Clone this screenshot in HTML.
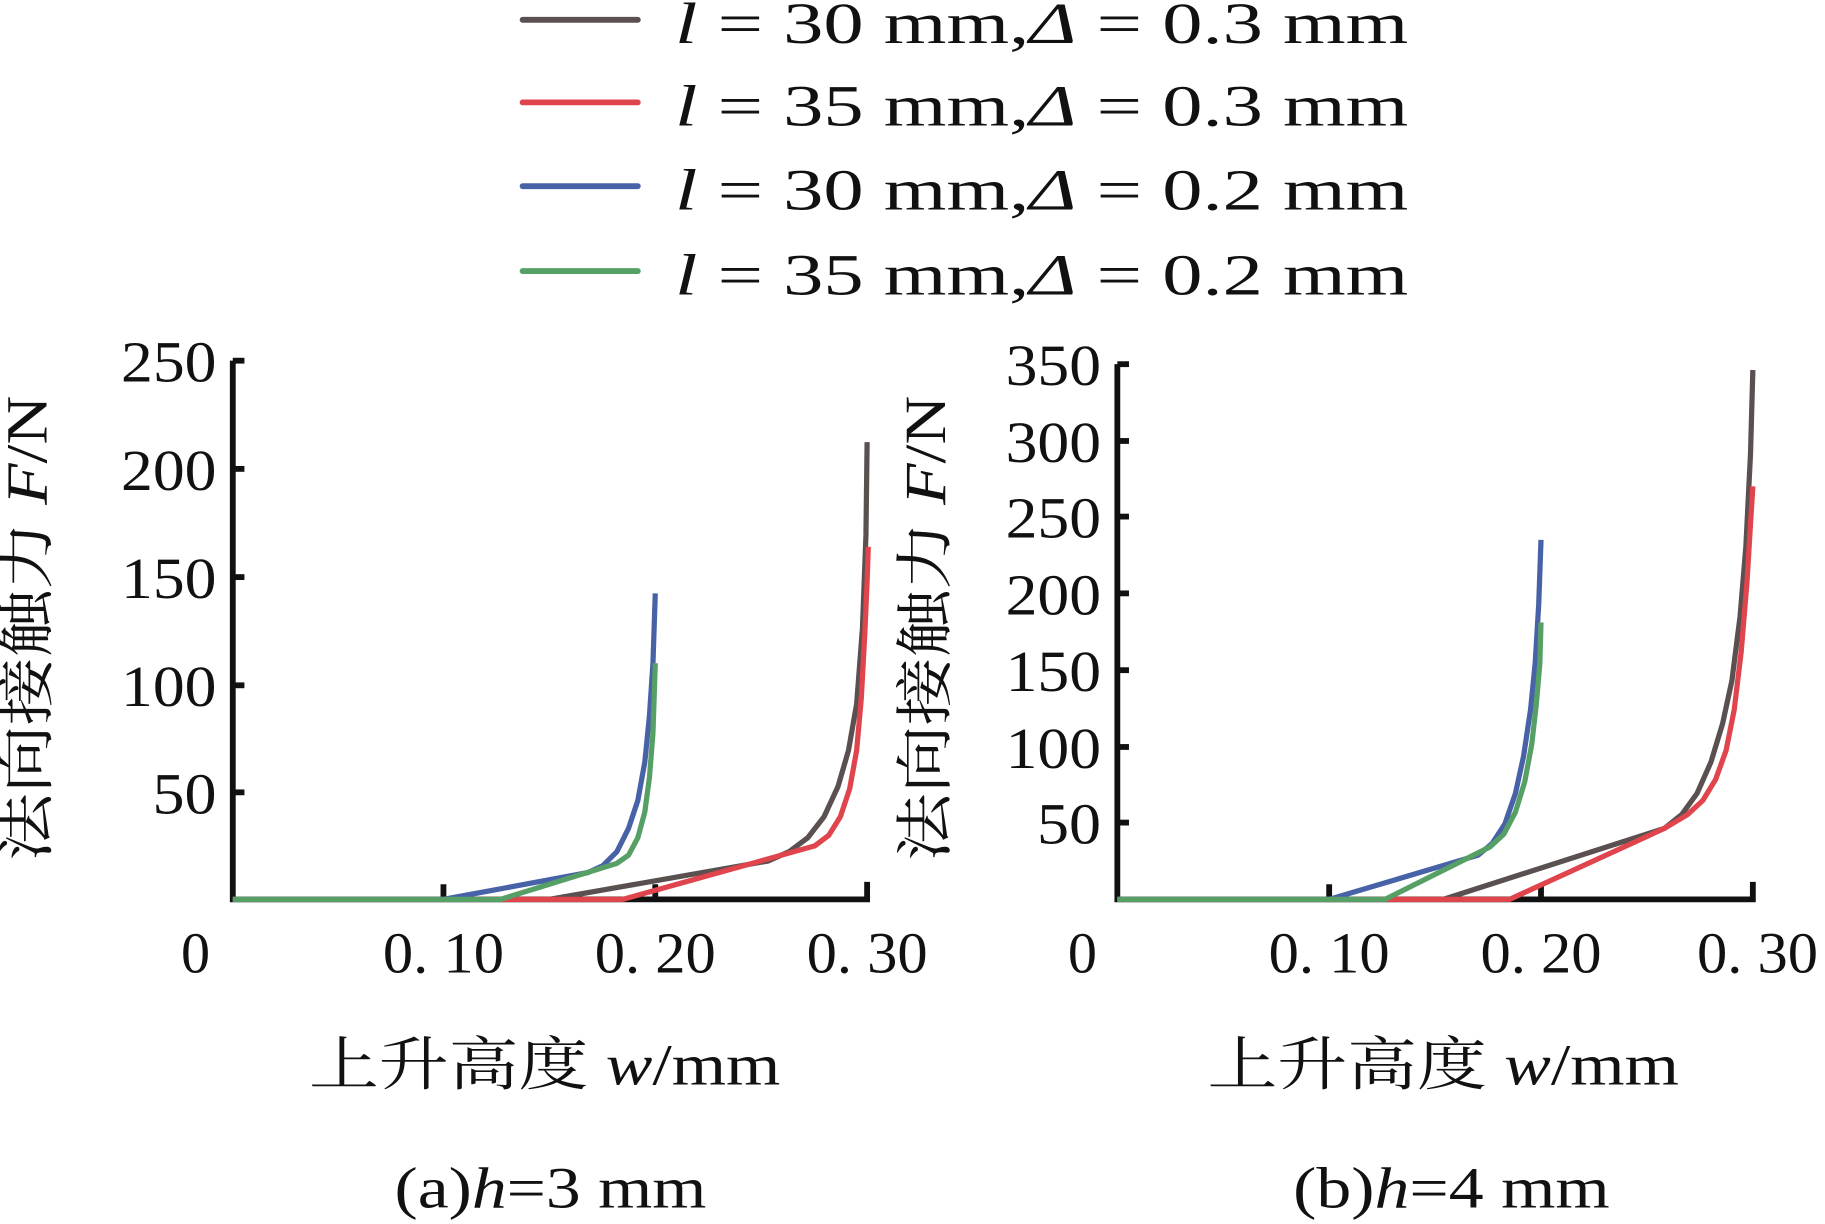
<!DOCTYPE html>
<html><head><meta charset="utf-8"><style>
html,body{margin:0;padding:0;background:#fff;}
svg{display:block;}
text{font-family:"Liberation Serif","Noto Serif CJK SC",serif;fill:#111;}
</style></head><body>
<svg width="1825" height="1224" viewBox="0 0 1568 1052" preserveAspectRatio="none" xmlns="http://www.w3.org/2000/svg">
<g stroke-width="5" stroke-linecap="round" fill="none">
<line x1="449" y1="17" x2="548" y2="17" stroke="#5a5050"/>
<line x1="449" y1="88" x2="548" y2="88" stroke="#e0444c"/>
<line x1="449" y1="160" x2="548" y2="160" stroke="#4862a8"/>
<line x1="449" y1="233" x2="548" y2="233" stroke="#56a066"/>
</g>
<g font-size="50">
<text x="580" y="37" textLength="630" lengthAdjust="spacingAndGlyphs"><tspan font-style="italic">l</tspan> = 30 mm,<tspan font-style="italic">Δ</tspan> = 0.3 mm</text>
<text x="580" y="108" textLength="630" lengthAdjust="spacingAndGlyphs"><tspan font-style="italic">l</tspan> = 35 mm,<tspan font-style="italic">Δ</tspan> = 0.3 mm</text>
<text x="580" y="180" textLength="630" lengthAdjust="spacingAndGlyphs"><tspan font-style="italic">l</tspan> = 30 mm,<tspan font-style="italic">Δ</tspan> = 0.2 mm</text>
<text x="580" y="253" textLength="630" lengthAdjust="spacingAndGlyphs"><tspan font-style="italic">l</tspan> = 35 mm,<tspan font-style="italic">Δ</tspan> = 0.2 mm</text>
</g>

<!-- Panel a -->
<g stroke="#111" stroke-width="5" fill="none">
<polyline points="200,310 200,773 745,773 745,758"/>
<line x1="200" y1="310" x2="210" y2="310"/><line x1="200" y1="403" x2="210" y2="403"/>
<line x1="200" y1="496" x2="210" y2="496"/><line x1="200" y1="589" x2="210" y2="589"/>
<line x1="200" y1="681" x2="210" y2="681"/>
<line x1="381" y1="773" x2="381" y2="760"/><line x1="563" y1="773" x2="563" y2="760"/>
</g>
<g font-size="50" text-anchor="end">
<text x="186" y="328" textLength="82" lengthAdjust="spacingAndGlyphs">250</text><text x="186" y="421" textLength="82" lengthAdjust="spacingAndGlyphs">200</text><text x="186" y="514" textLength="82" lengthAdjust="spacingAndGlyphs">150</text>
<text x="186" y="607" textLength="82" lengthAdjust="spacingAndGlyphs">100</text><text x="186" y="699" textLength="55" lengthAdjust="spacingAndGlyphs">50</text>
</g>
<g font-size="50" text-anchor="middle">
<text x="168" y="836">0</text><text x="381" y="836" textLength="104" lengthAdjust="spacingAndGlyphs">0. 10</text><text x="563" y="836" textLength="104" lengthAdjust="spacingAndGlyphs">0. 20</text><text x="745" y="836" textLength="104" lengthAdjust="spacingAndGlyphs">0. 30</text>
</g>
<g fill="none" stroke-width="4.5" stroke-linejoin="round">
<polyline stroke="#5a5050" points="200,773 472,773 660,740 678,732 694,720 708,702 720,676 729,645 736,605 741,540 744,460 745,380"/>
<polyline stroke="#e0444c" points="200,773 535,773 700,727 712,718 722,702 730,678 736,645 740,600 743,545 745,500 746,470"/>
<polyline stroke="#4862a8" points="200,773 381,773 505,750 518,744 530,732 540,712 548,688 554,655 558,615 561,570 563,510"/>
<polyline stroke="#56a066" points="200,773 430,773 530,742 540,735 548,720 554,698 558,668 561,630 562,600 563,570"/>
</g>
<text x="40" y="540" font-size="50" text-anchor="middle" transform="rotate(-90 40 540)" textLength="400" lengthAdjust="spacingAndGlyphs">法向接触力 <tspan font-style="italic">F</tspan>/N</text>
<text x="468" y="932" font-size="50" text-anchor="middle" textLength="405" lengthAdjust="spacingAndGlyphs">上升高度 <tspan font-style="italic">w</tspan>/mm</text>
<text x="473" y="1038" font-size="50" text-anchor="middle" textLength="268" lengthAdjust="spacingAndGlyphs">(a)<tspan font-style="italic">h</tspan>=3 mm</text>

<!-- Panel b -->
<g stroke="#111" stroke-width="5" fill="none">
<polyline points="960,313 960,773 1506,773 1506,758"/>
<line x1="960" y1="313" x2="970" y2="313"/><line x1="960" y1="379" x2="970" y2="379"/>
<line x1="960" y1="444" x2="970" y2="444"/><line x1="960" y1="510" x2="970" y2="510"/>
<line x1="960" y1="576" x2="970" y2="576"/><line x1="960" y1="642" x2="970" y2="642"/>
<line x1="960" y1="707" x2="970" y2="707"/>
<line x1="1142" y1="773" x2="1142" y2="760"/><line x1="1324" y1="773" x2="1324" y2="760"/>
</g>
<g font-size="50" text-anchor="end">
<text x="946" y="331" textLength="82" lengthAdjust="spacingAndGlyphs">350</text><text x="946" y="397" textLength="82" lengthAdjust="spacingAndGlyphs">300</text><text x="946" y="462" textLength="82" lengthAdjust="spacingAndGlyphs">250</text>
<text x="946" y="528" textLength="82" lengthAdjust="spacingAndGlyphs">200</text><text x="946" y="594" textLength="82" lengthAdjust="spacingAndGlyphs">150</text><text x="946" y="660" textLength="82" lengthAdjust="spacingAndGlyphs">100</text>
<text x="946" y="725" textLength="55" lengthAdjust="spacingAndGlyphs">50</text>
</g>
<g font-size="50" text-anchor="middle">
<text x="930" y="836">0</text><text x="1142" y="836" textLength="104" lengthAdjust="spacingAndGlyphs">0. 10</text><text x="1324" y="836" textLength="104" lengthAdjust="spacingAndGlyphs">0. 20</text><text x="1510" y="836" textLength="104" lengthAdjust="spacingAndGlyphs">0. 30</text>
</g>
<g fill="none" stroke-width="4.5" stroke-linejoin="round">
<polyline stroke="#5a5050" points="960,773 1240,773 1430,712 1445,700 1458,682 1470,655 1480,622 1488,585 1495,530 1500,470 1504,390 1506,318"/>
<polyline stroke="#e0444c" points="960,773 1297,773 1430,712 1450,700 1463,688 1474,670 1483,645 1490,610 1496,560 1501,500 1504,450 1506,418"/>
<polyline stroke="#4862a8" points="960,773 1142,773 1270,735 1282,725 1293,708 1302,682 1309,650 1315,610 1319,570 1322,520 1324,464"/>
<polyline stroke="#56a066" points="960,773 1190,773 1280,728 1292,717 1302,698 1310,672 1316,640 1320,605 1323,570 1324,535"/>
</g>
<text x="812" y="540" font-size="50" text-anchor="middle" transform="rotate(-90 812 540)" textLength="400" lengthAdjust="spacingAndGlyphs">法向接触力 <tspan font-style="italic">F</tspan>/N</text>
<text x="1240" y="932" font-size="50" text-anchor="middle" textLength="405" lengthAdjust="spacingAndGlyphs">上升高度 <tspan font-style="italic">w</tspan>/mm</text>
<text x="1247" y="1038" font-size="50" text-anchor="middle" textLength="272" lengthAdjust="spacingAndGlyphs">(b)<tspan font-style="italic">h</tspan>=4 mm</text>
</svg>
</body></html>
